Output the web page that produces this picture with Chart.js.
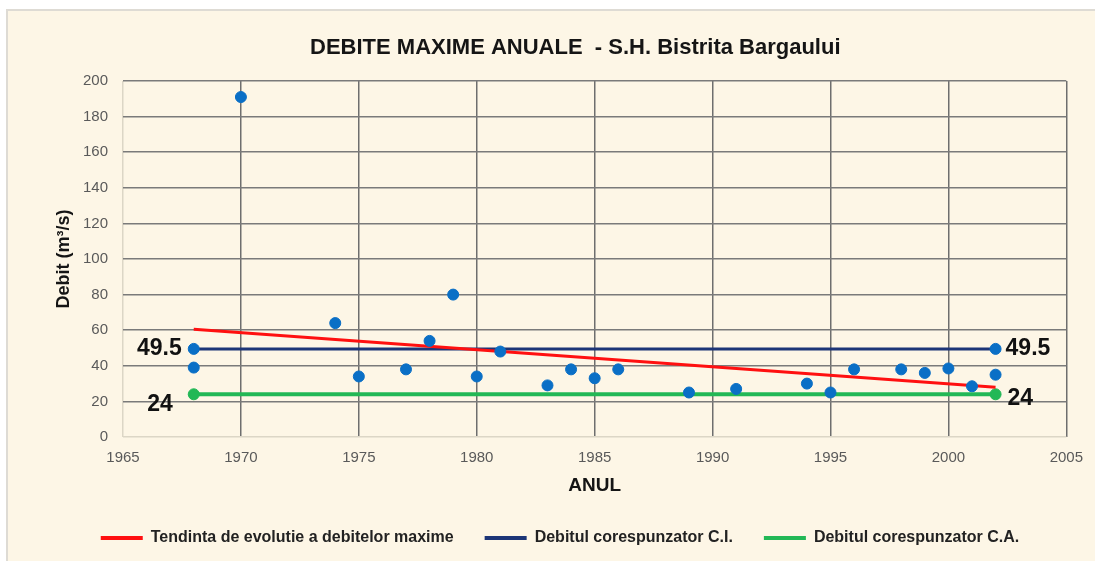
<!DOCTYPE html>
<html>
<head>
<meta charset="utf-8">
<script src="https://cdn.jsdelivr.net/npm/chart.js@4.4.1/dist/chart.umd.min.js"></script>
<style>
  html, body { margin: 0; padding: 0; background: #fff; }
  #wrap { width: 1095px; height: 561px; position: relative; }
</style>
</head>
<body>
<div id="wrap"><canvas id="chart"></canvas></div>
<script>
// observed annual maximum discharges
const years = [1968, 1970, 1974, 1975, 1977, 1978, 1979, 1980, 1981, 1983, 1984, 1985,
               1986, 1989, 1991, 1994, 1995, 1996, 1998, 1999, 2000, 2001, 2002];
const debit = [39, 191, 64, 34, 38, 54, 80, 34, 48, 29, 38, 33,
               38, 25, 27, 30, 25, 38, 38, 36, 38.5, 28.5, 35];

// trend and reference levels, start and end of the series
const lineYears = [1968, 2002];
const trend = [60.5, 28];
const debitCI = [49.5, 49.5];
const debitCA = [24, 24];

const xTicks = [1965, 2005, 5];
const yTicks = [0, 200, 20];

function pts(xs, ys) {
  return xs.map((x, i) => ({ x: x, y: ys[i] }));
}

const bgPlugin = {
  id: 'bg',
  beforeDraw(chart) {
    const c = chart.ctx;
    c.save();
    c.fillStyle = '#ffffff';
    c.fillRect(0, 0, chart.width, chart.height);
    c.fillStyle = '#fdf6e6';
    c.fillRect(7, 10, chart.width - 7, chart.height - 10);
    c.strokeStyle = '#dedbd4';
    c.lineWidth = 2;
    c.beginPath();
    c.moveTo(7, chart.height);
    c.lineTo(7, 10);
    c.lineTo(chart.width, 10);
    c.stroke();
    c.restore();
  }
};

// 49.5 / 24 labels at both ends of the reference lines
const endLabels = {
  id: 'endLabels',
  afterDatasetsDraw(chart) {
    const c = chart.ctx;
    const xs = chart.scales.x, ys = chart.scales.y;
    c.save();
    c.font = 'bold 23px "Liberation Sans", Arial, sans-serif';
    c.fillStyle = '#111';
    c.textBaseline = 'middle';
    [[debitCI, -12, 0, 10, 0], [debitCA, -21, 10, 12, 4]].forEach(([vals, dxl, dyl, dxr, dyr]) => {
      const x0 = xs.getPixelForValue(lineYears[0]);
      const x1 = xs.getPixelForValue(lineYears[1]);
      c.textAlign = 'right';
      c.fillText(String(vals[0]), x0 + dxl, ys.getPixelForValue(vals[0]) + dyl);
      c.textAlign = 'left';
      c.fillText(String(vals[1]), x1 + dxr, ys.getPixelForValue(vals[1]) + dyr);
    });
    c.restore();
  }
};

const font = '"Liberation Sans", Arial, sans-serif';

new Chart(document.getElementById('chart'), {
  type: 'scatter',
  data: {
    datasets: [
      {
        label: 'Debite maxime',
        data: pts(years, debit),
        backgroundColor: '#0a6fc6',
        borderColor: '#0a6fc6',
        pointRadius: 5.5,
        order: 0
      },
      {
        label: 'Tendinta de evolutie a debitelor maxime',
        data: pts(lineYears, trend),
        type: 'line',
        showLine: true,
        borderColor: '#ff1010',
        backgroundColor: '#ff1010',
        borderWidth: 3,
        pointRadius: 0,
        order: 1
      },
      {
        label: 'Debitul corespunzator C.I.',
        data: pts(lineYears, debitCI),
        type: 'line',
        showLine: true,
        borderColor: '#1c3577',
        backgroundColor: '#1c3577',
        borderWidth: 3,
        pointRadius: 5.5,
        pointBorderWidth: 1,
        pointBackgroundColor: '#0a6fc6',
        pointBorderColor: '#0a6fc6',
        order: 2
      },
      {
        label: 'Debitul corespunzator C.A.',
        data: pts(lineYears, debitCA),
        type: 'line',
        showLine: true,
        borderColor: '#22b856',
        backgroundColor: '#22b856',
        borderWidth: 4,
        pointRadius: 5.5,
        pointBorderWidth: 1,
        pointBackgroundColor: '#22b856',
        order: 3
      }
    ]
  },
  options: {
    responsive: true,
    maintainAspectRatio: false,
    animation: false,
    layout: { padding: { left: 45, right: 20, top: 35, bottom: 5 } },
    plugins: {
      title: {
        display: true,
        text: '     DEBITE MAXIME ANUALE  - S.H. Bistrita Bargaului',
        color: '#151515',
        font: { family: font, size: 22, weight: 'bold' },
        padding: { top: 0, bottom: 19.6 }
      },
      legend: {
        position: 'bottom',
        labels: {
          filter: (item) => {
            item.lineWidth = 0;
            return item.datasetIndex !== 0;
          },
          boxWidth: 42,
          boxHeight: 4,
          padding: 31,
          color: '#222',
          font: { family: font, size: 16, weight: 'bold' }
        }
      },
      tooltip: { enabled: false }
    },
    scales: {
      x: {
        type: 'linear',
        min: xTicks[0], max: xTicks[1],
        ticks: {
          stepSize: xTicks[2],
          color: '#5a5a5a',
          padding: 12,
          font: { family: font, size: 15 },
          callback: (v) => String(v)
        },
        grid: {
          color: (ctx) => ctx.tick && ctx.tick.value === xTicks[0] ? '#dcd6c6' : '#6e6e6e',
          lineWidth: 1.5,
          drawTicks: false
        },
        border: { display: false },
        title: {
          display: true,
          text: 'ANUL',
          color: '#151515',
          font: { family: font, size: 19, weight: 'bold' },
          padding: { top: 0, bottom: 2 }
        },
        afterFit: (s) => { s.height = 62; }
      },
      y: {
        min: yTicks[0], max: yTicks[1],
        ticks: {
          stepSize: yTicks[2],
          color: '#5a5a5a',
          padding: 15,
          font: { family: font, size: 15 }
        },
        grid: {
          color: (ctx) => ctx.tick && ctx.tick.value === yTicks[0] ? '#dcd6c6' : '#7a7a7a',
          lineWidth: 1.5,
          drawTicks: false
        },
        border: { display: false },
        title: {
          display: true,
          text: 'Debit (m³/s)',
          color: '#151515',
          font: { family: font, size: 18, weight: 'bold' },
          padding: { top: 8, bottom: 0 }
        },
        afterFit: (s) => { s.width = 78; }
      }
    }
  },
  plugins: [bgPlugin, endLabels]
});
</script>
</body>
</html>
